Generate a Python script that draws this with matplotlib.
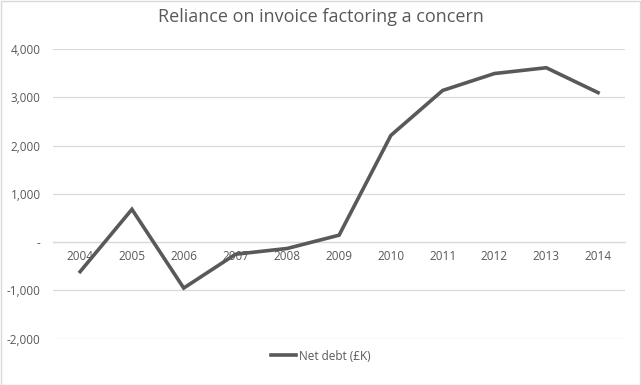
import matplotlib
matplotlib.use("Agg")
import matplotlib.pyplot as plt
from matplotlib.ticker import FuncFormatter, FixedLocator

years = ["2004", "2005", "2006", "2007", "2008", "2009", "2010", "2011", "2012", "2013", "2014"]
net_debt = [-610, 680, -950, -250, -130, 145, 2210, 3140, 3490, 3610, 3095]
series_label = "Net debt (£K)"
title = "Reliance on invoice factoring a concern"

plt.rcParams['font.family'] = ['Open Sans', 'DejaVu Sans']

fig = plt.figure(figsize=(6.41, 3.85), dpi=100)
ax = fig.add_axes([0.083, 0.12, 0.892, 0.753])

x = list(range(len(years)))
line, = ax.plot(x, net_debt, color="#595959", lw=2.6, solid_joinstyle="miter", label=series_label, zorder=3)

ax.set_ylim(-2000, 4000)
ax.set_xlim(-0.52, len(years) - 0.48)
ax.yaxis.set_major_locator(FixedLocator(range(-2000, 4001, 1000)))
ax.yaxis.set_major_formatter(FuncFormatter(lambda v, p: "-" if v == 0 else f"{int(v):,}"))
ax.grid(axis="y", color="#d9d9d9", lw=0.9, zorder=0)
ax.set_xticks(x)
ax.set_xticklabels(years)

for s in ["top", "right", "left"]:
    ax.spines[s].set_visible(False)
ax.spines["bottom"].set_position(("data", 0))
ax.spines["bottom"].set_color("#d9d9d9")
ax.spines["bottom"].set_linewidth(0.9)

ax.tick_params(axis="both", length=0, colors="#595959", labelsize=8.5)
ax.tick_params(axis="x", pad=6)
ax.tick_params(axis="y", pad=9)

fig.text(0.5, 0.955, title, ha="center", va="center", fontsize=13, color="#595959")

leg = fig.legend(handles=[line], loc="center", bbox_to_anchor=(0.5, 0.075), frameon=False,
                 fontsize=8.5, handlelength=2.2, handletextpad=0.2)
for t in leg.get_texts():
    t.set_color("#595959")

fig.patches.append(plt.Rectangle((0.001, 0.001), 0.997, 0.997, transform=fig.transFigure,
                                 fill=False, edgecolor="#d9d9d9", lw=1))

fig.savefig("out.png", dpi=100)
